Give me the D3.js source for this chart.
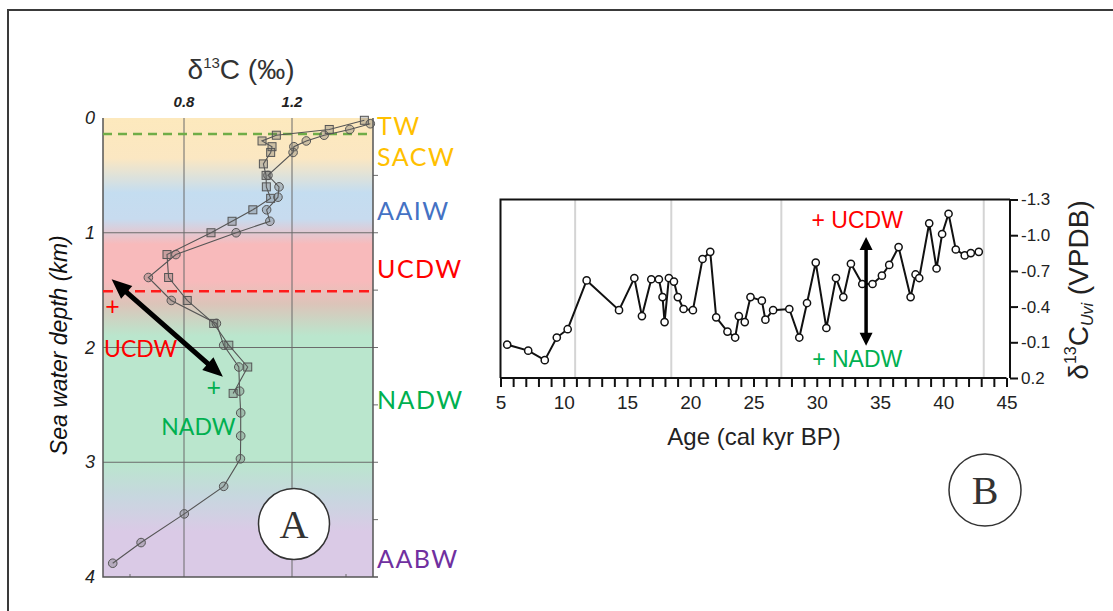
<!DOCTYPE html>
<html><head><meta charset="utf-8">
<script src="https://cdn.jsdelivr.net/npm/d3@7"></script>
<style>body{margin:0;background:#fff}svg{display:block}</style>
</head><body>
<svg id="fig" width="1113" height="611"></svg>
<script>
// ---- Panel A: seawater δ13C profiles (two stations) against depth ----
const circleDepth = [0.05,0.10,0.15,0.20,0.25,0.30,0.50,0.60,0.69,0.80,0.90,1.00,1.19,1.39,1.59,1.79,1.98,2.17,2.38,2.57,2.77,2.97,3.21,3.45,3.70,3.88];
const circleD13C  = [1.49,1.414,1.319,1.253,1.207,1.204,1.111,1.152,1.148,1.106,1.118,0.993,0.770,0.668,0.753,0.920,0.947,1.003,1.006,1.010,1.010,1.009,0.947,0.801,0.641,0.536];
const squareDepth = [0.02,0.10,0.15,0.20,0.25,0.30,0.40,0.50,0.60,0.70,0.80,0.90,1.00,1.19,1.39,1.59,1.79,1.98,2.17,2.40];
const squareD13C  = [1.468,1.338,1.142,1.089,1.126,1.121,1.094,1.104,1.105,1.121,1.055,0.978,0.900,0.737,0.743,0.812,0.910,0.966,1.036,0.982];
const d13cTicks = [0.8, 1.2];
const depthTicks = [0, 1, 2, 3, 4];
const waterMasses = ["TW", "SACW", "AAIW", "UCDW", "NADW", "AABW"];
const waterMassDepth = [0.15, 0.415, 0.89, 1.39, 2.54, 3.92];
const waterMassColor = ["#ffc000", "#ffc000", "#4472c4", "#ff0000", "#00b050", "#7030a0"];
const twBoundaryDepth = 0.14;   // green dashed line
const ucdwBoundaryDepth = 1.51; // red dashed line

// ---- Panel B: benthic δ13C record (Uvigerina) against age ----
const ageKyr = [5.53,7.19,8.5,9.45,10.31,11.81,14.37,15.58,16.18,16.92,17.52,17.81,17.97,18.31,18.71,19.02,19.47,20.21,20.97,21.58,22.05,22.94,23.55,23.84,24.31,24.76,25.66,25.94,26.55,27.83,28.62,29.23,29.92,30.76,31.52,32.1,32.7,33.6,34.41,35.15,35.73,36.47,37.42,37.81,38.1,38.89,39.47,39.91,40.42,40.99,41.7,42.18,42.81];
const d13cUvi = [-0.08,-0.03,0.05,-0.14,-0.21,-0.62,-0.37,-0.64,-0.32,-0.63,-0.63,-0.48,-0.27,-0.64,-0.61,-0.48,-0.38,-0.37,-0.80,-0.86,-0.31,-0.19,-0.14,-0.32,-0.27,-0.48,-0.45,-0.29,-0.37,-0.38,-0.14,-0.43,-0.77,-0.22,-0.64,-0.48,-0.76,-0.59,-0.59,-0.66,-0.75,-0.90,-0.48,-0.67,-0.64,-1.10,-0.72,-1.01,-1.18,-0.88,-0.83,-0.85,-0.86];
const ageTicks = [5,10,15,20,25,30,35,40,45];
const uviTicks = [-1.3,-1.0,-0.7,-0.4,-0.1,0.2];
const boundaryAges = [10.9, 18.5, 27.2, 43.2];

const svg = d3.select("#fig");
const sans = "'Liberation Sans', Arial, sans-serif";
const office = "Lato, 'Open Sans', sans-serif";
const serif = "'Liberation Serif', 'DejaVu Serif', serif";

// figure frame (top and left edges)
svg.append("line").attr("x1", 7).attr("x2", 1113).attr("y1", 10).attr("y2", 10).attr("stroke", "#3a3a3a").attr("stroke-width", 2);
svg.append("line").attr("x1", 8).attr("x2", 8).attr("y1", 10).attr("y2", 611).attr("stroke", "#3a3a3a").attr("stroke-width", 2);

const defs = svg.append("defs");

// double-headed arrow drawn as one filled polygon
function doubleArrow(g, x1, y1, x2, y2, w, hl, hw) {
  const dx = x2 - x1, dy = y2 - y1, L = Math.hypot(dx, dy);
  const ux = dx / L, uy = dy / L, nx = -uy, ny = ux;
  const p = (t, s) => [x1 + ux * t + nx * s, y1 + uy * t + ny * s];
  const pts = [p(0, 0), p(hl, hw / 2), p(hl, w / 2), p(L - hl, w / 2), p(L - hl, hw / 2), p(L, 0),
               p(L - hl, -hw / 2), p(L - hl, -w / 2), p(hl, -w / 2), p(hl, -hw / 2)];
  g.append("polygon").attr("points", pts.map(d => d.join(",")).join(" ")).attr("fill", "#000");
}

// ===================== Panel A =====================
const ax = d3.scaleLinear().domain([0.5, 1.5]).range([103, 373]);
const ay = d3.scaleLinear().domain([0, 4]).range([118, 577]);
const gA = svg.append("g");

// water-mass colour background
const grad = defs.append("linearGradient").attr("id", "waterBands")
  .attr("x1", 0).attr("y1", 0).attr("x2", 0).attr("y2", 1);
[[0, "#fde9bd"], [0.35, "#fbe7c2"], [0.65, "#c4ddf0"], [0.88, "#c7dbef"], [1.1, "#f8babb"],
 [1.42, "#f8babb"], [1.62, "#dcc4b9"], [1.9, "#bae6cd"], [3.0, "#bae6cd"], [3.3, "#c7d7df"],
 [3.6, "#dacae6"], [4, "#dacae6"]].forEach(([d, c]) => {
  grad.append("stop").attr("offset", d / 4).attr("stop-color", c);
});
gA.append("rect").attr("x", ax(0.5)).attr("y", ay(0)).attr("width", ax(1.5) - ax(0.5))
  .attr("height", ay(4) - ay(0)).attr("fill", "url(#waterBands)");

// grid
gA.selectAll(".vgrid").data(d13cTicks).join("line")
  .attr("x1", d => ax(d)).attr("x2", d => ax(d)).attr("y1", ay(0)).attr("y2", ay(4))
  .attr("stroke", "#6b6b6b").attr("stroke-width", 1);
gA.selectAll(".hgrid").data([1, 2, 3]).join("line")
  .attr("x1", ax(0.5)).attr("x2", ax(1.5) + 5).attr("y1", d => ay(d)).attr("y2", d => ay(d))
  .attr("stroke", "#6b6b6b").attr("stroke-width", 1);
// right-side half ticks
gA.selectAll(".rtick").data([0.5, 1.5, 2.5, 3.5]).join("line")
  .attr("x1", ax(1.5)).attr("x2", ax(1.5) + 5).attr("y1", d => ay(d)).attr("y2", d => ay(d))
  .attr("stroke", "#6b6b6b").attr("stroke-width", 1);
// bottom minor ticks
gA.selectAll(".btick").data([0.6, 1.4]).join("line")
  .attr("x1", d => ax(d)).attr("x2", d => ax(d)).attr("y1", ay(4) - 3).attr("y2", ay(4))
  .attr("stroke", "#6b6b6b").attr("stroke-width", 1);
// frame
gA.append("path")
  .attr("d", `M${ax(0.5)},${ay(0)}V${ay(4)}H${ax(1.5) + 5}M${ax(1.5)},${ay(4)}V${ay(0)}`)
  .attr("fill", "none").attr("stroke", "#555").attr("stroke-width", 1.5);

// boundary dashed lines
gA.append("line").attr("x1", ax(0.5)).attr("x2", ax(1.49)).attr("y1", ay(twBoundaryDepth)).attr("y2", ay(twBoundaryDepth))
  .attr("stroke", "#70ad47").attr("stroke-width", 2.5).attr("stroke-dasharray", "9,6");
gA.append("line").attr("x1", ax(0.5)).attr("x2", ax(1.5)).attr("y1", ay(ucdwBoundaryDepth)).attr("y2", ay(ucdwBoundaryDepth))
  .attr("stroke", "#ff1a1a").attr("stroke-width", 2.5).attr("stroke-dasharray", "10,6");

// profiles
const circles = circleDepth.map((d, i) => ({ depth: d, v: circleD13C[i] }));
const squares = squareDepth.map((d, i) => ({ depth: d, v: squareD13C[i] }));
const profLine = d3.line().x(d => ax(d.v)).y(d => ay(d.depth));
gA.append("path").datum(circles).attr("d", profLine).attr("fill", "none").attr("stroke", "#555").attr("stroke-width", 1.1);
gA.append("path").datum(squares).attr("d", profLine).attr("fill", "none").attr("stroke", "#555").attr("stroke-width", 1.1);
gA.selectAll(".sq").data(squares).join("rect")
  .attr("x", d => ax(d.v) - 4).attr("y", d => ay(d.depth) - 4).attr("width", 8).attr("height", 8)
  .attr("fill", "rgba(95,95,95,0.3)").attr("stroke", "#555").attr("stroke-width", 1);
gA.selectAll(".ci").data(circles).join("circle")
  .attr("cx", d => ax(d.v)).attr("cy", d => ay(d.depth)).attr("r", 4.3)
  .attr("fill", "rgba(95,95,95,0.3)").attr("stroke", "#555").attr("stroke-width", 1);

// axis labels
gA.selectAll(".xt").data(d13cTicks).join("text")
  .attr("x", d => ax(d)).attr("y", 107).attr("text-anchor", "middle")
  .attr("font-family", sans).attr("font-size", 15).attr("font-weight", "bold").attr("font-style", "italic")
  .attr("fill", "#222").text(d => d.toFixed(1));
gA.selectAll(".yt").data(depthTicks).join("text")
  .attr("x", 95).attr("y", d => ay(d) + 6).attr("text-anchor", "end")
  .attr("font-family", sans).attr("font-size", 18).attr("font-style", "italic")
  .attr("fill", "#222").text(d => d);
const titleA = gA.append("text").attr("x", 241).attr("y", 79).attr("text-anchor", "middle")
  .attr("font-family", sans).attr("font-size", 28).attr("fill", "#333");
titleA.append("tspan").text("δ");
titleA.append("tspan").attr("font-size", 15).attr("dy", -11).text("13");
titleA.append("tspan").attr("dy", 11).text("C (‰)");
gA.append("text").attr("transform", `translate(67,${ay(1.98)}) rotate(-90)`).attr("text-anchor", "middle")
  .attr("font-family", sans).attr("font-size", 23).attr("font-style", "italic").attr("fill", "#111")
  .text("Sea water depth (km)");

// water mass names
gA.selectAll(".wm").data(waterMasses).join("text")
  .attr("x", 377).attr("y", (d, i) => ay(waterMassDepth[i]))
  .attr("font-family", office).attr("font-size", 25).attr("fill", (d, i) => waterMassColor[i])
  .attr("letter-spacing", 1.5).text(d => d);

// UCDW / NADW mixing annotation
doubleArrow(gA, ax(0.532), ay(1.405), ax(0.944), ay(2.255), 5, 20, 17);
gA.append("text").attr("x", ax(0.535)).attr("y", ay(1.72)).attr("text-anchor", "middle")
  .attr("font-family", office).attr("font-size", 25).attr("fill", "#ff0000").text("+");
gA.append("text").attr("x", ax(0.504)).attr("y", ay(2.08)).attr("font-family", office)
  .attr("font-size", 23).attr("fill", "#ff0000").text("UCDW");
gA.append("text").attr("x", ax(0.91)).attr("y", ay(2.42)).attr("text-anchor", "middle")
  .attr("font-family", office).attr("font-size", 25).attr("fill", "#00b050").text("+");
gA.append("text").attr("x", ax(0.716)).attr("y", ay(2.76)).attr("font-family", office)
  .attr("font-size", 23).attr("fill", "#00b050").text("NADW");

// panel badge A
gA.append("circle").attr("cx", 294).attr("cy", 524).attr("r", 35.5).attr("fill", "#fff").attr("stroke", "#333").attr("stroke-width", 1.5);
gA.append("text").attr("x", 294).attr("y", 538).attr("text-anchor", "middle").attr("font-family", serif)
  .attr("font-size", 40).attr("fill", "#333").text("A");

// ===================== Panel B =====================
const bx = d3.scaleLinear().domain([5, 45]).range([500.5, 1006.5]);
const by = d3.scaleLinear().domain([-1.3, 0.2]).range([199.5, 378]);
const gB = svg.append("g");
const rightX = 1010;

// chronozone boundaries
gB.selectAll(".bnd").data(boundaryAges).join("line")
  .attr("x1", d => bx(d)).attr("x2", d => bx(d)).attr("y1", by(-1.3)).attr("y2", by(0.2))
  .attr("stroke", "#d4d4d4").attr("stroke-width", 2);

// frame: top and left
gB.append("path").attr("d", `M${rightX},${by(-1.3)}H${bx(5)}V${by(0.2)}`)
  .attr("fill", "none").attr("stroke", "#111").attr("stroke-width", 2);

// bottom axis
const xAxisB = d3.axisBottom(bx).tickValues(d3.range(5, 46, 1)).tickSize(9)
  .tickFormat(d => (ageTicks.includes(d) ? d : ""));
const gxb = gB.append("g").attr("transform", `translate(0,${by(0.2)})`).call(xAxisB);
gxb.select(".domain").attr("stroke", "#111").attr("stroke-width", 2).attr("d", `M${bx(5)},0H${bx(45)}`);
gxb.selectAll(".tick line").attr("stroke", "#111").attr("stroke-width", 2);
gxb.selectAll(".tick text").attr("font-family", sans).attr("font-size", 19).attr("fill", "#222").attr("dy", "1.0em");

// right axis
const yAxisB = d3.axisRight(by).tickValues(uviTicks).tickSize(8).tickFormat(d3.format(".1f"));
const gyb = gB.append("g").attr("transform", `translate(${rightX},0)`).call(yAxisB);
gyb.select(".domain").attr("stroke", "#111").attr("stroke-width", 2).attr("d", `M0,${by(-1.3)}V${by(0.2)}`);
gyb.selectAll(".tick line").attr("stroke", "#111").attr("stroke-width", 2);
gyb.selectAll(".tick text").attr("font-family", sans).attr("font-size", 17).attr("fill", "#222").attr("x", 11)
  .text(d => d3.format(".1f")(d).replace("−", "-"));

// record
const rec = ageKyr.map((a, i) => ({ a, v: d13cUvi[i] }));
gB.append("path").datum(rec).attr("d", d3.line().x(d => bx(d.a)).y(d => by(d.v)))
  .attr("fill", "none").attr("stroke", "#111").attr("stroke-width", 2);
gB.selectAll(".pt").data(rec).join("circle")
  .attr("cx", d => bx(d.a)).attr("cy", d => by(d.v)).attr("r", 3.6)
  .attr("fill", "#fff").attr("stroke", "#111").attr("stroke-width", 1.5);

// axis titles
gB.append("text").attr("x", 754).attr("y", 445).attr("text-anchor", "middle")
  .attr("font-family", sans).attr("font-size", 24).attr("fill", "#222").text("Age (cal kyr BP)");
const yl = gB.append("text").attr("transform", `translate(1088,${by(-0.54)}) rotate(-90)`).attr("text-anchor", "middle")
  .attr("font-family", sans).attr("font-size", 28).attr("fill", "#222");
yl.append("tspan").text("δ");
yl.append("tspan").attr("font-size", 16).attr("dy", -12).text("13");
yl.append("tspan").attr("dy", 12).text("C");
yl.append("tspan").attr("font-size", 16).attr("font-style", "italic").attr("dy", 5).text("Uvi");
yl.append("tspan").attr("dy", -5).text(" (VPDB)");

// mixing arrow and end-member labels
doubleArrow(gB, bx(33.9), by(-0.985), bx(33.9), by(-0.07), 3.5, 13, 13);
gB.append("text").attr("x", bx(33.2)).attr("y", 228).attr("text-anchor", "middle")
  .attr("font-family", sans).attr("font-size", 23).attr("fill", "#ff0000").text("+ UCDW");
gB.append("text").attr("x", bx(33.2)).attr("y", 367).attr("text-anchor", "middle")
  .attr("font-family", sans).attr("font-size", 23).attr("fill", "#00b050").text("+ NADW");

// panel badge B
gB.append("circle").attr("cx", 985).attr("cy", 490).attr("r", 36).attr("fill", "#fff").attr("stroke", "#333").attr("stroke-width", 1.5);
gB.append("text").attr("x", 985).attr("y", 504).attr("text-anchor", "middle").attr("font-family", serif)
  .attr("font-size", 40).attr("fill", "#333").text("B");
</script>
</body></html>
